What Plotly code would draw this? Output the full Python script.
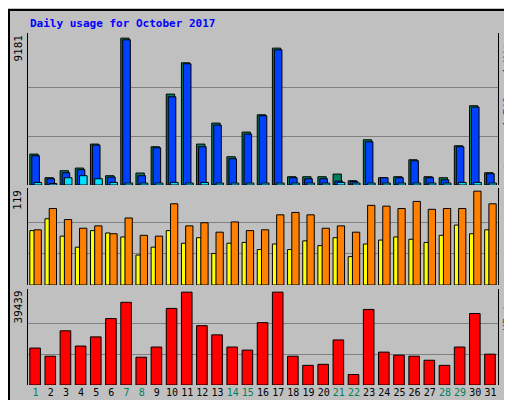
import plotly.graph_objects as go

days = list(range(1, 32))
weekend = [1, 7, 8, 14, 15, 21, 22, 28, 29]

hits = [1936, 458, 895, 1062, 2561, 583, 9181, 750, 2394, 5683, 7640, 2561, 3872, 1770, 3310, 4392,
        8556, 520, 520, 520, 687, 270, 2831, 458, 520, 1582, 520, 458, 2456, 4955, 770]
files = [1832, 395, 770, 958, 2498, 500, 9077, 583, 2332, 5517, 7578, 2394, 3747, 1645, 3185, 4330,
         8452, 458, 395, 395, 250, 229, 2706, 458, 458, 1520, 458, 333, 2394, 4871, 708]
pages = [166, 100, 458, 583, 395, 166, 125, 125, 125, 166, 125, 166, 125, 125, 125, 125,
         125, 125, 125, 125, 166, 125, 125, 125, 125, 125, 125, 125, 166, 166, 125]
visits = [70, 97, 83, 72, 75, 65, 85, 63, 62, 103, 75, 79, 67, 80, 69, 70,
          89, 92, 89, 72, 75, 67, 101, 100, 97, 106, 96, 97, 97, 119, 103]
sites = [69, 84, 62, 48, 69, 66, 61, 38, 48, 69, 53, 60, 40, 53, 54, 45,
         52, 45, 56, 50, 60, 36, 52, 57, 61, 58, 54, 63, 76, 65, 70]
kbytes = [15690, 12235, 23030, 16553, 20440, 28212, 35122, 11803, 16121, 32531, 39439, 25190, 21303,
          16121, 14826, 26485, 39439, 12235, 8349, 8780, 19144, 4462, 32099, 13962, 12667, 12235,
          10508, 8349, 16121, 30372, 13099]

FONT = "DejaVu Sans Mono"
line = dict(color="black", width=1)

fig = go.Figure()
# top panel: hits / files / pages
fig.add_bar(x=days, y=hits, offset=-0.38, width=0.55, marker=dict(color="#00805C", line=line), yaxis="y3")
fig.add_bar(x=days, y=files, offset=-0.25, width=0.5, marker=dict(color="#0040FF", line=line), yaxis="y3")
fig.add_bar(x=days, y=pages, offset=-0.1, width=0.5, marker=dict(color="#00E0FF", line=line), yaxis="y3")
# middle: sites / visits
fig.add_bar(x=days, y=sites, offset=-0.38, width=0.3, marker=dict(color="#FFFF00", line=line), yaxis="y2")
fig.add_bar(x=days, y=visits, offset=-0.1, width=0.48, marker=dict(color="#FF8000", line=line), yaxis="y2")
# bottom: kbytes
fig.add_bar(x=days, y=kbytes, offset=-0.38, width=0.7, marker=dict(color="#FF0000", line=line), yaxis="y")

def yax(mx, dom):
    return dict(domain=dom, range=[0, mx * 1.035], tickvals=[mx / 3, 2 * mx / 3], showticklabels=False,
                showgrid=True, gridcolor="#808080", gridwidth=1, zeroline=False, automargin=False,
                showline=True, linecolor="black", mirror=True, fixedrange=True)

ticktext = [f"<span style='color:#00805C'>{d}</span>" if d in weekend else str(d) for d in days]

fig.update_layout(
    width=512, height=400, barmode="overlay", showlegend=False,
    paper_bgcolor="#C0C0C0", plot_bgcolor="#C0C0C0",
    margin=dict(l=20, r=22, t=25, b=23, autoexpand=False),
    font=dict(family=FONT, size=11, color="black"),
    xaxis=dict(range=[0.5, 31.5], tickvals=days, ticktext=ticktext, tickfont=dict(size=10),
               tickangle=0, automargin=False,
               showgrid=False, ticks="", showline=False, fixedrange=True),
    yaxis=yax(max(kbytes), [0, 0.273]),
    yaxis2=yax(max(visits), [0.284, 0.56]),
    yaxis3=yax(max(hits), [0.568, 1]),
)

anns = [
    dict(x=0, y=1.028, xref="paper", yref="paper", xanchor="left", yanchor="middle", showarrow=False,
         text="<b>Daily usage for October 2017</b>", font=dict(color="#0000FF", size=11)),
    dict(x=-0.003, y=1, xref="paper", yref="paper", xanchor="right", yanchor="top", showarrow=False,
         textangle=-90, text=str(max(hits))),
    dict(x=-0.003, y=0.56, xref="paper", yref="paper", xanchor="right", yanchor="top", showarrow=False,
         textangle=-90, text=str(max(visits))),
    dict(x=-0.003, y=0.273, xref="paper", yref="paper", xanchor="right", yanchor="top", showarrow=False,
         textangle=-90, text=str(max(kbytes))),
    dict(x=1.003, y=1, xref="paper", yref="paper", xanchor="left", yanchor="top", showarrow=False,
         textangle=-90,
         text="<span style='color:#00E0FF'>Pages</span> / <span style='color:#0040FF'>Files</span> / <span style='color:#00805C'>Hits</span>"),
    dict(x=1.003, y=0.56, xref="paper", yref="paper", xanchor="left", yanchor="top", showarrow=False,
         textangle=-90,
         text="<span style='color:#FF8000'>Sites</span> / <span style='color:#FFFF00'>Visits</span>"),
    dict(x=1.003, y=0.273, xref="paper", yref="paper", xanchor="left", yanchor="top", showarrow=False,
         textangle=-90, text="<span style='color:#FF0000'>KBytes</span>"),
]
fig.update_layout(annotations=anns)

# outer frame
fig.add_shape(type="rect", xref="paper", yref="paper", x0=-19 / 470, x1=1 + 20 / 470, y0=-21 / 352, y1=1 + 23 / 352,
              line=dict(color="black", width=2), layer="below")

fig.write_html("out.html")
